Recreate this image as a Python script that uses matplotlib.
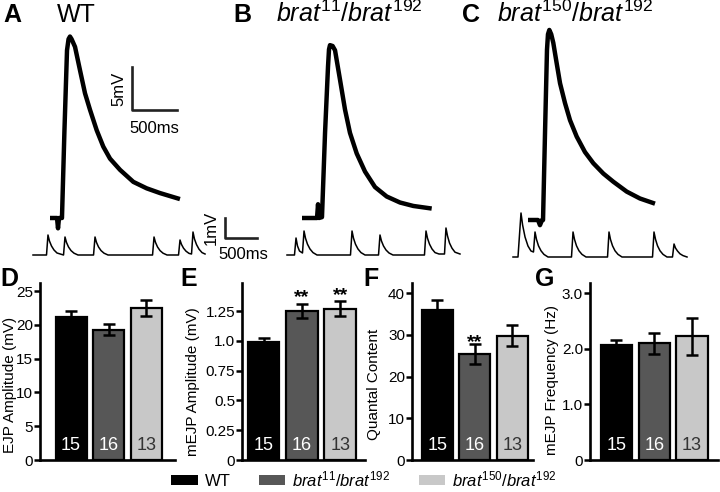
import numpy as np
import matplotlib.pyplot as plt
import matplotlib.patches as mpatches

plt.rcParams['font.family'] = ['Liberation Sans', 'DejaVu Sans']
plt.rcParams['mathtext.fontset'] = 'custom'
plt.rcParams['mathtext.rm'] = 'Liberation Sans'
plt.rcParams['mathtext.it'] = 'Liberation Sans:italic'

# ---- data ----
genotypes = ["WT", r"$\mathit{brat^{11}/brat^{192}}$", r"$\mathit{brat^{150}/brat^{192}}$"]
n_nmj = [15, 16, 13]

ejp_amp = [21.1, 19.3, 22.5]
ejp_sem = [0.9, 0.8, 1.2]
mejp_amp = [0.99, 1.25, 1.27]
mejp_sem = [0.03, 0.06, 0.06]
quantal = [35.9, 25.4, 29.8]
quantal_sem = [2.4, 2.4, 2.5]
mejp_freq = [2.06, 2.10, 2.22]
mejp_freq_sem = [0.10, 0.19, 0.33]
mejp_amp_sig = ["", "**", "**"]
quantal_sig = ["", "**", ""]

# EJP traces: (time ms, mV above baseline)
ejp_wt = [(0, 0), (78, 0), (89, -1.2), (100, 0), (133, 0), (160, 10), (189, 19.5),
          (206, 20.8), (222, 21.1), (240, 20.8), (278, 19.9), (333, 17.2), (389, 14.5),
          (444, 12.6), (519, 10.2), (592, 8.3), (667, 6.9), (778, 5.6), (926, 4.2),
          (1074, 3.45), (1222, 2.9), (1444, 2.2)]
ejp_b11 = [(0, 0), (167, 0), (178, 1.6), (189, 0), (222, 0.1), (256, 9.9), (289, 17.6),
           (300, 19.6), (311, 20.1), (340, 20.0), (367, 19.5), (422, 16.1), (478, 12.6),
           (533, 9.9), (608, 7.5), (700, 5.4), (811, 3.6), (941, 2.5), (1089, 1.8),
           (1237, 1.4), (1441, 1.1)]
ejp_b150 = [(0, 0), (111, 0), (133, -0.6), (156, 0), (167, 0), (189, 10.1), (211, 19.8),
            (222, 21.6), (237, 22.1), (258, 21.6), (281, 20.6), (319, 18.2), (356, 15.9),
            (411, 13.6), (467, 11.6), (541, 9.7), (633, 7.9), (726, 6.6), (837, 5.4),
            (948, 4.45), (1097, 3.3), (1244, 2.5), (1411, 1.9)]

# mEJP traces: (time ms, mV above baseline)
mini_wt = [(0, 0), (211, 0), (234, 1.0), (257, 0.7), (289, 0.45), (328, 0.25), (375, 0.1),
           (477, 0), (500, 0.9), (523, 0.63), (555, 0.4), (594, 0.22), (641, 0.09), (703, 0),
           (946, 0), (969, 0.9), (992, 0.63), (1024, 0.4), (1063, 0.22), (1110, 0.09), (1172, 0),
           (1868, 0), (1891, 0.9), (1914, 0.63), (1946, 0.4), (1985, 0.22), (2032, 0.09), (2094, 0),
           (2274, 0), (2297, 0.75), (2320, 0.53), (2352, 0.34), (2391, 0.19), (2438, 0.08),
           (2477, 0.05), (2500, 1.15), (2523, 0.8), (2555, 0.52), (2594, 0.29), (2641, 0.12),
           (2688, 0.05)]
mini_b11 = [(0, 0), (117, 0), (141, 0.85), (164, 0.45), (195, 0.2), (242, 0.1), (266, 1.2),
            (289, 0.84), (320, 0.54), (359, 0.3), (406, 0.12), (469, 0), (992, 0), (1016, 1.2),
            (1039, 0.84), (1070, 0.54), (1109, 0.3), (1156, 0.12), (1219, 0), (1430, 0),
            (1453, 1.0), (1476, 0.7), (1508, 0.45), (1547, 0.25), (1594, 0.1), (1656, 0),
            (2148, 0), (2172, 1.2), (2195, 0.84), (2227, 0.54), (2266, 0.3), (2313, 0.12),
            (2375, 0.05), (2461, 0.05), (2484, 1.35), (2508, 0.95), (2539, 0.6), (2578, 0.34),
            (2625, 0.14), (2703, 0.05)]
mini_b150 = [(0, 0), (78, 0), (125, 2.2), (150, 1.6), (188, 1.0), (234, 0.55), (281, 0.3),
             (320, 0.25), (344, 1.25), (367, 0.88), (398, 0.56), (438, 0.31), (484, 0.13),
             (547, 0), (914, 0), (938, 1.25), (961, 0.88), (992, 0.56), (1031, 0.31),
             (1078, 0.13), (1141, 0), (1477, 0), (1500, 1.25), (1523, 0.88), (1555, 0.56),
             (1594, 0.31), (1641, 0.13), (1703, 0), (2180, 0), (2203, 1.25), (2227, 0.88),
             (2258, 0.56), (2297, 0.31), (2344, 0.13), (2406, 0), (2492, 0), (2516, 0.65),
             (2539, 0.45), (2570, 0.3), (2609, 0.16), (2656, 0.07), (2719, 0)]

colors = ["#000000", "#575757", "#c8c8c8"]
count_colors = ["white", "white", "#333333"]

W, H = 720, 492
fig = plt.figure(figsize=(W / 100, H / 100), dpi=100)


def px_rect(left, top, right, bottom):
    return [left / W, 1 - bottom / H, (right - left) / W, (bottom - top) / H]


def trace_axes(x0, y0, xlim, ylim, px_ms, px_mv):
    rect = px_rect(x0 + xlim[0] * px_ms, y0 - ylim[1] * px_mv,
                   x0 + xlim[1] * px_ms, y0 - ylim[0] * px_mv)
    ax = fig.add_axes(rect)
    ax.set_xlim(xlim)
    ax.set_ylim(ylim)
    ax.axis('off')
    ax.patch.set_alpha(0)
    return ax


# ---- top: example traces ----
EJP_MS, EJP_MV = 0.09, 8.6
MINI_MS, MINI_MV = 0.064, 20.0
ejp_origins = [(50, 218), (302, 218), (528, 220)]
mini_origins = [(33, 255), (287, 255), (513, 257)]

ejp_axes = []
for trace, (x0, y0) in zip([ejp_wt, ejp_b11, ejp_b150], ejp_origins):
    ax = trace_axes(x0, y0, (-100, 1700), (-3, 24), EJP_MS, EJP_MV)
    t, v = np.array(trace).T
    ax.plot(t, v, color='black', lw=3.2, solid_joinstyle='round', solid_capstyle='butt')
    ejp_axes.append(ax)

mini_axes = []
for trace, (x0, y0) in zip([mini_wt, mini_b11, mini_b150], mini_origins):
    ax = trace_axes(x0, y0, (-100, 3700), (-0.6, 2.6), MINI_MS, MINI_MV)
    t, v = np.array(trace).T
    ax.plot(t, v, color='black', lw=1.1)
    mini_axes.append(ax)

# scale bars
ax = ejp_axes[0]
ax.plot([911, 911, 1411], [17.56, 12.56, 12.56], color='#222222', lw=1.9)
ax.text(850, 15.06, "5mV", rotation=90, ha='right', va='center', fontsize=12)
ax.text(1161, 11.3, "500ms", ha='center', va='top', fontsize=12)

ax = mini_axes[0]
ax.plot([3000, 3000, 3500], [1.85, 0.85, 0.85], color='#222222', lw=1.9)
ax.text(2900, 1.35, "1mV", rotation=90, ha='right', va='center', fontsize=12)
ax.text(3280, 0.4, "500ms", ha='center', va='top', fontsize=12)

# panel titles
fig.text(3 / W, 1 - 22 / H, "A", fontsize=18, weight='bold', va='baseline')
fig.text(233 / W, 1 - 22 / H, "B", fontsize=18, weight='bold', va='baseline')
fig.text(462 / W, 1 - 22 / H, "C", fontsize=18, weight='bold', va='baseline')
fig.text(57 / W, 1 - 22 / H, genotypes[0], fontsize=18, va='baseline')
fig.text(276 / W, 1 - 22 / H, genotypes[1], fontsize=18, va='baseline')
fig.text(497 / W, 1 - 22 / H, genotypes[2], fontsize=18, va='baseline')

# ---- bottom: bar graphs ----
panels = [
    dict(px=(40, 283, 175, 460), xlim=(-0.83, 2.77), ylim=(0, 26.2), vals=ejp_amp, errs=ejp_sem,
         ticks=[0, 5, 10, 15, 20, 25], tlabels=["0", "5", "10", "15", "20", "25"],
         ylabel="EJP Amplitude (mV)", lab_px=(10, 385), letter="D", let_px=(0, 286), sig=None),
    dict(px=(242, 283, 365, 460), xlim=(-0.56, 2.64), ylim=(0, 1.485), vals=mejp_amp, errs=mejp_sem,
         ticks=[0, 0.25, 0.5, 0.75, 1.0, 1.25], tlabels=["0", "0.25", "0.5", "0.75", "1.0", "1.25"],
         ylabel="mEJP Amplitude (mV)", lab_px=(193, 382), letter="E", let_px=(180, 286),
         sig=mejp_amp_sig, sig_off=1),
    dict(px=(412, 283, 533, 460), xlim=(-0.68, 2.55), ylim=(0, 42.4), vals=quantal, errs=quantal_sem,
         ticks=[0, 10, 20, 30, 40], tlabels=["0", "10", "20", "30", "40"],
         ylabel="Quantal Content", lab_px=(374, 384), letter="F", let_px=(363, 286),
         sig=quantal_sig, sig_off=-2),
    dict(px=(590, 283, 718, 460), xlim=(-0.70, 2.69), ylim=(0, 3.18), vals=mejp_freq, errs=mejp_freq_sem,
         ticks=[0, 1, 2, 3], tlabels=["0", "1.0", "2.0", "3.0"],
         ylabel="mEJP Frequency (Hz)", lab_px=(552, 380), letter="G", let_px=(535, 286), sig=None),
]

x = np.arange(3)
for p in panels:
    ax = fig.add_axes(px_rect(*p['px']))
    ax.bar(x, p['vals'], width=0.83, color=colors, edgecolor='black', linewidth=1.6, zorder=2)
    ax.errorbar(x, p['vals'], yerr=p['errs'], fmt='none', ecolor='black',
                elinewidth=1.8, capsize=4.5, capthick=1.8, zorder=3)
    ax.set_xlim(p['xlim'])
    ax.set_ylim(p['ylim'])
    ax.set_yticks(p['ticks'])
    ax.set_yticklabels(p['tlabels'], fontsize=11)
    ax.set_xticks([])
    for s in ['top', 'right']:
        ax.spines[s].set_visible(False)
    for s in ['left', 'bottom']:
        ax.spines[s].set_linewidth(1.9)
    ax.tick_params(axis='y', length=4, width=1.8, pad=1)
    ax.patch.set_alpha(0)
    for xi, n, c in zip(x, n_nmj, count_colors):
        ax.annotate(str(n), (xi, 0), xytext=(0, 4), textcoords='offset points',
                    ha='center', va='bottom', fontsize=13, color=c, zorder=4)
    if p['sig']:
        for xi, v, e, s in zip(x, p['vals'], p['errs'], p['sig']):
            if s:
                ax.annotate(s, (xi, v + e), xytext=(0, p['sig_off']), textcoords='offset points',
                            ha='center', va='baseline', fontsize=14, weight='bold')
    lx, ly = p['lab_px']
    fig.text(lx / W, 1 - ly / H, p['ylabel'], rotation=90, ha='center', va='center', fontsize=11)
    fx, fy = p['let_px']
    fig.text(fx / W, 1 - fy / H, p['letter'], fontsize=18, weight='bold', va='baseline')

handles = [mpatches.Patch(facecolor=c, edgecolor='none') for c in colors]
fig.legend(handles, genotypes, loc='center', bbox_to_anchor=(364 / W, 1 - 479 / H), ncol=3,
           frameon=False, fontsize=12, handlelength=1.6, handleheight=0.6, handletextpad=0.4,
           columnspacing=1.7, borderpad=0)

fig.savefig("out.png", dpi=100)
